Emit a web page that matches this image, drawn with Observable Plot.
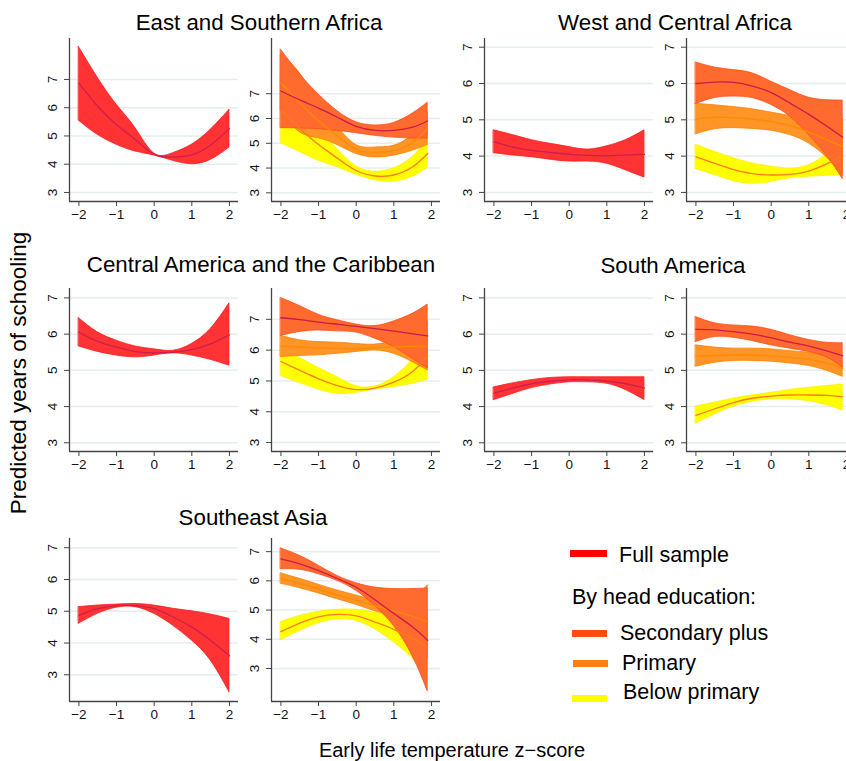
<!DOCTYPE html>
<html><head><meta charset="utf-8">
<script src="https://cdn.jsdelivr.net/npm/d3@7"></script>
<script src="https://cdn.jsdelivr.net/npm/@observablehq/plot@0.6"></script>
<style>
html,body{margin:0;padding:0;background:#fff;overflow:hidden}
#wrap{position:relative;width:846px;height:761px;overflow:hidden;font-family:"Liberation Sans",Arial,Helvetica,sans-serif;color:#000}
.lbl{position:absolute;white-space:nowrap;line-height:1}
.ctr{transform:translateX(-50%)}
.sw{position:absolute;height:6px}
</style></head><body><div id="wrap"></div>
<script>
// ---------------- data ----------------
const xLeft  = [-2, -1.5, -1, -0.5, 0, 0.5, 1, 1.5, 2];
const xRight = [-2, -1.5, -1, -0.5, 0, 0.5, 1, 1.5, 1.9];
const xTicks = [-2, -1, 0, 1, 2];
const yTicks = [3, 4, 5, 6, 7];
const regionNames = ["East and Southern Africa", "West and Central Africa", "Central America and the Caribbean", "South America", "Southeast Asia"];
const legendLabels = ["Full sample", "By head education:", "Secondary plus", "Primary", "Below primary"];

// East and Southern Africa
const esaFullLo = [5.54, 5.04, 4.69, 4.45, 4.31, 4.12, 4.00, 4.15, 4.59];
const esaFullMid = [6.86, 6.05, 5.40, 4.87, 4.35, 4.25, 4.33, 4.68, 5.26];
const esaFullHi = [8.15, 7.06, 6.11, 5.28, 4.38, 4.39, 4.69, 5.22, 5.93];
const esaSecLo = [5.61, 5.60, 5.57, 5.50, 5.41, 5.30, 5.23, 5.19, 5.19];
const esaSecMid = [7.11, 6.75, 6.42, 6.05, 5.68, 5.52, 5.52, 5.65, 5.90];
const esaSecHi = [8.78, 7.80, 6.97, 6.30, 5.85, 5.72, 5.82, 6.20, 6.64];
const esaPriLo = [6.30, 5.45, 5.20, 4.93, 4.57, 4.43, 4.50, 4.70, 4.93];
const esaPriMid = [7.44, 6.64, 5.90, 5.30, 4.75, 4.63, 4.70, 5.03, 5.60];
const esaPriHi = [8.58, 7.83, 6.60, 5.67, 4.93, 4.83, 4.90, 5.36, 6.27];
const esaBelLo = [5.00, 4.65, 4.30, 4.03, 3.73, 3.51, 3.45, 3.65, 4.00];
const esaBelMid = [6.33, 5.60, 4.95, 4.40, 3.90, 3.68, 3.72, 4.05, 4.59];
const esaBelHi = [7.66, 6.55, 5.60, 4.77, 4.07, 3.85, 3.99, 4.45, 5.18];

// West and Central Africa
const wcaFullLo = [4.08, 4.02, 3.97, 3.90, 3.85, 3.85, 3.79, 3.61, 3.41];
const wcaFullMid = [4.39, 4.25, 4.16, 4.10, 4.05, 4.02, 4.01, 4.03, 4.05];
const wcaFullHi = [4.71, 4.58, 4.44, 4.34, 4.25, 4.18, 4.27, 4.44, 4.71];
const wcaSecLo = [5.43, 5.60, 5.64, 5.60, 5.41, 5.09, 4.58, 3.98, 3.37];
const wcaSecMid = [6.00, 6.04, 6.03, 5.93, 5.75, 5.46, 5.15, 4.81, 4.52];
const wcaSecHi = [6.58, 6.44, 6.37, 6.28, 6.05, 5.82, 5.61, 5.54, 5.53];
const wcaPriLo = [4.60, 4.74, 4.77, 4.75, 4.70, 4.58, 4.35, 3.94, 3.48];
const wcaPriMid = [5.02, 5.07, 5.06, 5.02, 4.95, 4.84, 4.66, 4.44, 4.26];
const wcaPriHi = [5.44, 5.40, 5.35, 5.29, 5.20, 5.10, 4.97, 4.94, 5.04];
const wcaBelLo = [3.64, 3.48, 3.31, 3.24, 3.29, 3.39, 3.43, 3.46, 3.48];
const wcaBelMid = [3.98, 3.80, 3.63, 3.52, 3.48, 3.50, 3.59, 3.80, 4.01];
const wcaBelHi = [4.31, 4.12, 3.94, 3.80, 3.71, 3.66, 3.75, 4.08, 4.54];

// Central America and the Caribbean
const cacFullLo = [5.66, 5.51, 5.41, 5.36, 5.41, 5.47, 5.41, 5.29, 5.13];
const cacFullMid = [6.05, 5.80, 5.64, 5.52, 5.48, 5.50, 5.57, 5.73, 5.98];
const cacFullHi = [6.44, 6.05, 5.82, 5.66, 5.58, 5.54, 5.73, 6.14, 6.85];
const cacSecLo = [6.46, 6.59, 6.64, 6.61, 6.57, 6.37, 6.10, 5.72, 5.40];
const cacSecMid = [7.05, 6.99, 6.91, 6.84, 6.77, 6.70, 6.62, 6.53, 6.46];
const cacSecHi = [7.69, 7.43, 7.15, 6.97, 6.83, 6.78, 6.93, 7.18, 7.48];
const cacPriLo = [5.78, 5.81, 5.83, 5.88, 5.94, 5.99, 5.88, 5.61, 5.34];
const cacPriMid = [6.13, 6.10, 6.07, 6.06, 6.05, 6.08, 6.10, 6.12, 6.13];
const cacPriHi = [6.46, 6.32, 6.26, 6.24, 6.20, 6.18, 6.32, 6.63, 6.92];
const cacBelLo = [5.16, 4.93, 4.72, 4.58, 4.61, 4.72, 4.80, 4.91, 5.04];
const cacBelMid = [5.63, 5.34, 5.07, 4.85, 4.72, 4.77, 4.96, 5.31, 5.81];
const cacBelHi = [6.10, 5.75, 5.42, 5.12, 4.83, 4.82, 5.12, 5.71, 6.58];

// South America
const saFullLo = [4.18, 4.35, 4.51, 4.61, 4.67, 4.67, 4.63, 4.46, 4.18];
const saFullMid = [4.37, 4.51, 4.63, 4.70, 4.74, 4.74, 4.70, 4.63, 4.51];
const saFullHi = [4.53, 4.64, 4.73, 4.79, 4.81, 4.81, 4.81, 4.81, 4.81];
const saSecLo = [5.78, 5.92, 5.90, 5.81, 5.69, 5.60, 5.51, 5.35, 5.07];
const saSecMid = [6.13, 6.12, 6.07, 6.00, 5.90, 5.78, 5.67, 5.53, 5.40];
const saSecHi = [6.47, 6.30, 6.24, 6.21, 6.12, 5.97, 5.84, 5.76, 5.75];
const saPriLo = [5.10, 5.21, 5.26, 5.26, 5.24, 5.19, 5.12, 4.98, 4.82];
const saPriMid = [5.40, 5.41, 5.43, 5.42, 5.40, 5.36, 5.30, 5.19, 5.05];
const saPriHi = [5.69, 5.63, 5.60, 5.60, 5.58, 5.53, 5.49, 5.40, 5.21];
const saBelLo = [3.53, 3.78, 4.00, 4.13, 4.20, 4.20, 4.15, 4.03, 3.89];
const saBelMid = [3.76, 3.94, 4.11, 4.23, 4.29, 4.32, 4.32, 4.31, 4.27];
const saBelHi = [4.00, 4.11, 4.22, 4.31, 4.38, 4.46, 4.52, 4.57, 4.61];

// Southeast Asia
const seaFullLo = [4.61, 4.92, 5.11, 5.13, 4.92, 4.55, 4.08, 3.45, 2.45];
const seaFullMid = [4.87, 5.08, 5.18, 5.18, 5.08, 4.82, 4.50, 4.08, 3.60];
const seaFullHi = [5.13, 5.18, 5.21, 5.23, 5.18, 5.08, 5.00, 4.90, 4.76];
const seaSecLo = [6.40, 6.38, 6.23, 6.00, 5.66, 5.14, 4.46, 3.42, 2.22];
const seaSecMid = [6.75, 6.58, 6.35, 6.08, 5.78, 5.35, 4.88, 4.42, 3.96];
const seaSecHi = [7.11, 6.86, 6.52, 6.17, 5.92, 5.77, 5.72, 5.72, 5.74];
const seaPriLo = [5.90, 5.75, 5.57, 5.37, 5.18, 4.96, 4.74, 4.20, 3.35];
const seaPriMid = [6.08, 5.91, 5.72, 5.52, 5.34, 5.14, 4.97, 4.78, 4.60];
const seaPriHi = [6.26, 6.07, 5.87, 5.67, 5.50, 5.32, 5.20, 5.35, 5.85];
const seaBelLo = [3.97, 4.28, 4.55, 4.68, 4.63, 4.34, 3.90, 3.35, 2.75];
const seaBelMid = [4.26, 4.55, 4.77, 4.85, 4.80, 4.59, 4.34, 4.02, 3.73];
const seaBelHi = [4.59, 4.80, 4.94, 5.01, 5.01, 4.91, 4.78, 4.69, 4.71];

// ---------------- styles ----------------
const FONT = '"Liberation Sans", Arial, Helvetica, sans-serif';
const STY = {
  full: {fill: "#ff3333", edge: "#ff1a1a", line: "#cc1f4f"},
  sec:  {fill: "#ff6b2e", edge: "#ff4d1a", line: "#cc1a4a"},
  pri:  {fill: "#ff9526", edge: "#ff8000", line: "#ff8a00"},
  bel:  {fill: "#ffff00", edge: "#fff000", line: "#ff7a1a"}
};

const rows = (xs, lo, mid, hi) => xs.map((x, i) => ({x, lo: lo[i], mid: mid[i], hi: hi[i]}));
const fmtX = d => (d < 0 ? "\u2212" + Math.abs(d) : String(d));

const wrap = document.getElementById("wrap");
const XDOM = [-2.25, 2.24];

function panel(left, top, yDomain, xs, series) {
  const ML = 40, MR = 4, MT = 4, MB = 34, W = 169, H = 163;
  const areas = [], lines = [];
  for (const s of series) {
    const data = rows(xs, s.lo, s.mid, s.hi);
    areas.push(Plot.areaY(data, {x: "x", y1: "lo", y2: "hi", fill: s.sty.fill, stroke: s.sty.edge, strokeWidth: 0.8, curve: "natural"}));
    lines.push(Plot.line(data, {x: "x", y: "mid", stroke: s.sty.line, strokeWidth: 1.3, curve: "natural"}));
  }
  const chart = Plot.plot({
    width: W + ML + MR, height: H + MT + MB,
    marginLeft: ML, marginRight: MR, marginTop: MT, marginBottom: MB,
    x: {domain: XDOM, axis: null},
    y: {domain: yDomain, axis: null},
    style: {fontFamily: FONT, background: "transparent", overflow: "visible", color: "#111"},
    marks: [
      Plot.ruleY(yTicks, {stroke: "#e4eeee", strokeWidth: 1.5}),
      ...areas,
      ...lines,
      Plot.ruleX([XDOM[0]], {stroke: "#444", strokeWidth: 1.3}),
      Plot.ruleY([yDomain[0]], {stroke: "#444", strokeWidth: 1.3}),
      Plot.axisX({ticks: xTicks, tickSize: 5, tickPadding: 3, fontSize: 13.5, label: null, stroke: "#444", tickFormat: fmtX}),
      Plot.axisY({ticks: yTicks, tickSize: 5, tickFormat: () => "", label: null, stroke: "#444"}),
      Plot.text(yTicks, {y: d => d, frameAnchor: "left", dx: -17, rotate: -90, text: d => String(d),
        fontSize: 13.5, textAnchor: "middle", lineAnchor: "middle", fill: "#111"})
    ]
  });
  chart.style.position = "absolute";
  chart.style.left = (left - ML) + "px";
  chart.style.top = (top - MT) + "px";
  wrap.appendChild(chart);
}

const S = (sty, lo, mid, hi) => ({sty, lo, mid, hi});

// Row 1
panel(69, 38, [2.68, 8.45], xLeft, [S(STY.full, esaFullLo, esaFullMid, esaFullHi)]);
panel(271, 38, [2.65, 9.23], xRight, [
  S(STY.bel, esaBelLo, esaBelMid, esaBelHi), S(STY.pri, esaPriLo, esaPriMid, esaPriHi), S(STY.sec, esaSecLo, esaSecMid, esaSecHi)]);
panel(484, 38, [2.75, 7.24], xLeft, [S(STY.full, wcaFullLo, wcaFullMid, wcaFullHi)]);
panel(686, 38, [2.75, 7.24], xRight, [
  S(STY.bel, wcaBelLo, wcaBelMid, wcaBelHi), S(STY.pri, wcaPriLo, wcaPriMid, wcaPriHi), S(STY.sec, wcaSecLo, wcaSecMid, wcaSecHi)]);
// Row 2
panel(69, 288, [2.76, 7.26], xLeft, [S(STY.full, cacFullLo, cacFullMid, cacFullHi)]);
panel(271, 288, [2.71, 8.0], xRight, [
  S(STY.bel, cacBelLo, cacBelMid, cacBelHi), S(STY.pri, cacPriLo, cacPriMid, cacPriHi), S(STY.sec, cacSecLo, cacSecMid, cacSecHi)]);
panel(484, 288, [2.76, 7.26], xLeft, [S(STY.full, saFullLo, saFullMid, saFullHi)]);
panel(686, 288, [2.76, 7.26], xRight, [
  S(STY.bel, saBelLo, saBelMid, saBelHi), S(STY.pri, saPriLo, saPriMid, saPriHi), S(STY.sec, saSecLo, saSecMid, saSecHi)]);
// Row 3
panel(69, 538, [2.16, 7.29], xLeft, [S(STY.full, seaFullLo, seaFullMid, seaFullHi)]);
panel(271, 538, [1.87, 7.45], xRight, [
  S(STY.bel, seaBelLo, seaBelMid, seaBelHi), S(STY.pri, seaPriLo, seaPriMid, seaPriHi), S(STY.sec, seaSecLo, seaSecMid, seaSecHi)]);

// ---------------- text ----------------
function label(text, x, baseline, fs, center, extra) {
  const d = document.createElement("div");
  d.className = "lbl" + (center ? " ctr" : "");
  d.textContent = text;
  d.style.fontSize = fs + "px";
  d.style.left = x + "px";
  d.style.top = (baseline - 0.8465 * fs) + "px";
  if (extra) Object.assign(d.style, extra);
  wrap.appendChild(d);
  return d;
}
const TFS = 22.3;
label(regionNames[0], 259, 31, TFS, true);
label(regionNames[1], 675, 31, TFS, true);
label(regionNames[2], 261, 273, TFS, true);
label(regionNames[3], 673, 274, TFS, true);
label(regionNames[4], 253, 526, TFS, true);

// axis titles
label("Early life temperature z\u2212score", 452, 757, 20, true);
const yt = document.createElement("div");
yt.className = "lbl";
yt.textContent = "Predicted years of schooling";
yt.style.fontSize = "22.5px";
yt.style.left = "19px"; yt.style.top = "373px";
yt.style.transform = "translate(-50%,-50%) rotate(-90deg)";
wrap.appendChild(yt);

// legend
function swatch(x1, x2, yc, color) {
  const d = document.createElement("div");
  d.className = "sw";
  d.style.left = x1 + "px"; d.style.width = (x2 - x1) + "px";
  d.style.top = (yc - 3.5) + "px"; d.style.height = "7px";
  d.style.background = color;
  wrap.appendChild(d);
}
swatch(570, 607, 553, "#ff0000");
label(legendLabels[0], 619, 563, 21.5, false);
label(legendLabels[1], 572, 605, 21.5, false);
swatch(572, 607, 633, "#ff4a12");
label(legendLabels[2], 620, 641, 21.5, false);
swatch(573, 608, 663, "#ff7f10");
label(legendLabels[3], 622, 671, 21.5, false);
swatch(572, 607, 698, "#ffff00");
label(legendLabels[4], 623, 700, 21.5, false);
</script>
</body></html>
